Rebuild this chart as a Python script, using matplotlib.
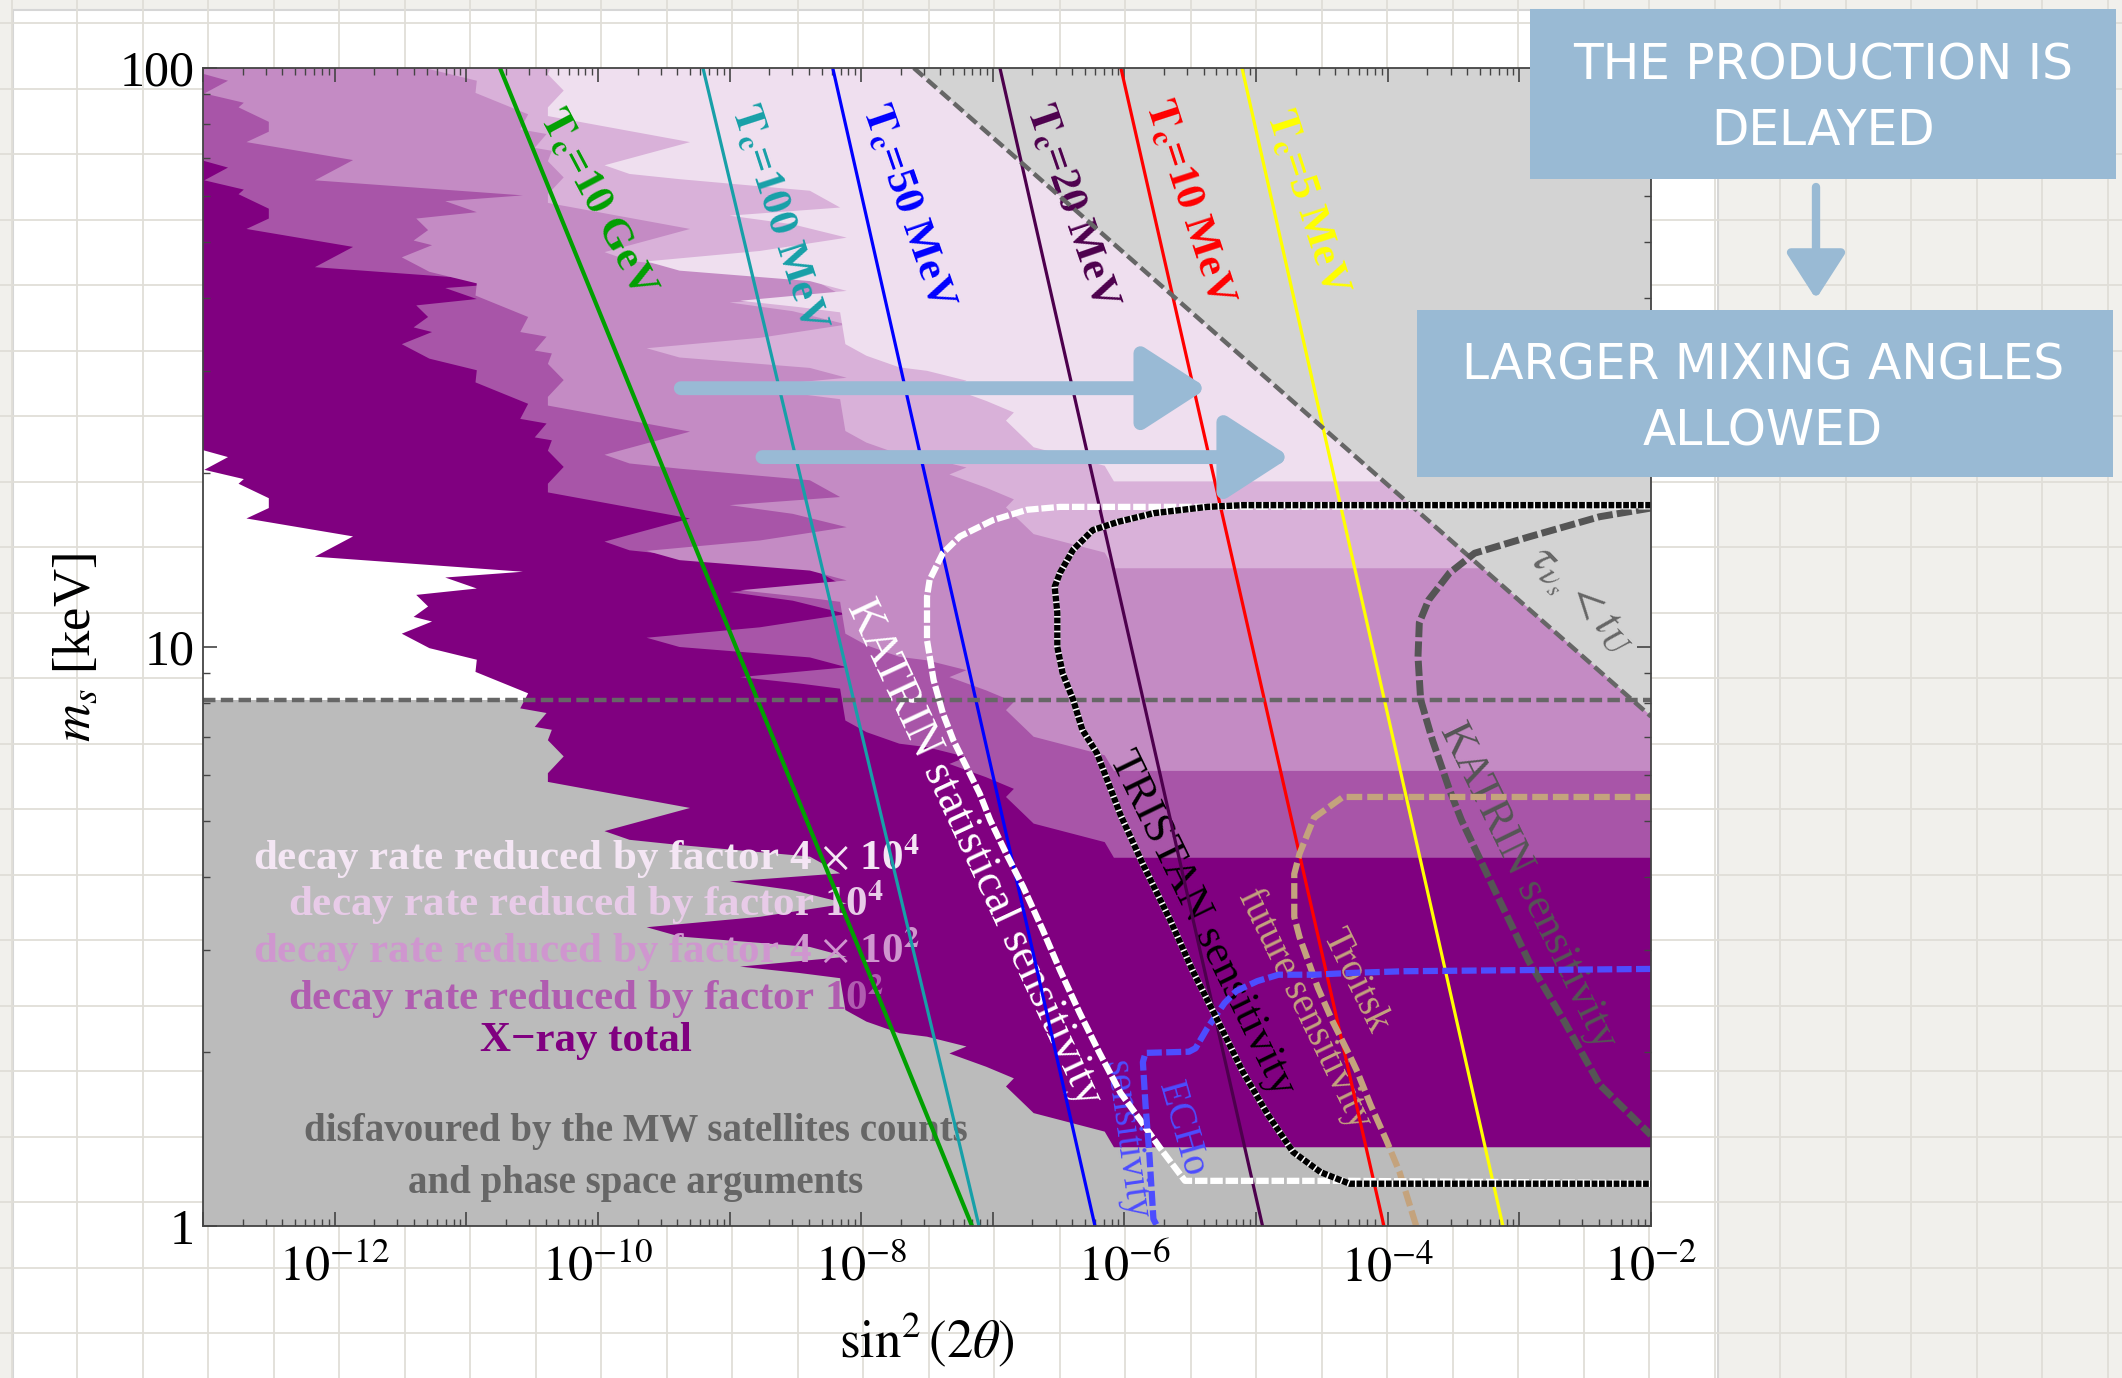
import numpy as np
import matplotlib.pyplot as plt
from matplotlib.patches import Rectangle
from matplotlib.ticker import FixedLocator, FuncFormatter, LogLocator, NullFormatter

plt.rcParams['font.family'] = 'serif'
plt.rcParams['font.serif'] = ['Liberation Serif', 'DejaVu Serif']
plt.rcParams['mathtext.fontset'] = 'stix'

W, H, DPI = 2122, 1378, 100

# X-ray total exclusion edge: log10 sin^2(2theta) vs log10 m_s/keV
xray_log_sin2 = [-13.00, -12.81, -12.99, -12.69, -12.73, -12.50, -12.50, -12.67, -11.86, -12.15,
                 -10.57, -11.16, -10.92, -11.38, -11.29, -11.40, -11.26, -11.49, -11.28, -10.92,
                 -10.93, -10.53, -10.59, -10.39, -10.48, -10.35, -10.38, -10.26, -10.38, -10.38,
                 -9.30, -9.95, -9.76, -9.38, -8.39, -8.16, -9.00, -8.52, -8.11, -8.77,
                 -9.63, -9.38, -8.39, -8.11, -8.92, -8.47, -8.16, -8.12, -7.96, -7.71,
                 -7.50, -7.20, -7.33, -7.05, -6.84, -6.90, -6.74, -6.69, -6.15, -6.08]
xray_log_ms = [1.340, 1.328, 1.306, 1.290, 1.282, 1.257, 1.240, 1.222, 1.191, 1.156,
               1.130, 1.120, 1.101, 1.090, 1.070, 1.052, 1.044, 1.023, 0.998, 0.978,
               0.957, 0.920, 0.894, 0.886, 0.862, 0.857, 0.839, 0.811, 0.782, 0.767,
               0.722, 0.682, 0.667, 0.658, 0.638, 0.609, 0.595, 0.580, 0.557, 0.534,
               0.516, 0.500, 0.482, 0.465, 0.448, 0.437, 0.428, 0.373, 0.353, 0.333,
               0.327, 0.310, 0.298, 0.275, 0.255, 0.241, 0.206, 0.195, 0.163, 0.136]

# reduced decay rate moves the whole X-ray edge up in mass (dex)
band_names = ['X\u2212ray total',
              'decay rate reduced by factor 10$^{\\mathbf{2}}$',
              'decay rate reduced by factor 4 $\\times$ 10$^{\\mathbf{2}}$',
              'decay rate reduced by factor 10$^{\\mathbf{4}}$',
              'decay rate reduced by factor 4 $\\times$ 10$^{\\mathbf{4}}$']
band_shift_dex = [0.0, 0.50, 0.65, 1.00, 1.15]
band_colors = ['#800080', '#a855a8', '#c48bc4', '#d9b1d9', '#efdfef']
band_text_colors = ['#800080', '#b05cb0', '#cf96cf', '#e8cbe8', '#f4e6f4']

ms_phase_space = 8.1          # keV, MW satellites / phase space bound
tau_log_sin2_top = -7.6       # tau < t_U line at m_s = 100 keV
tau_log_ms_edge = 0.88        # same line at sin^2 = 1e-2

# T_c lines: log10 sin^2 at m_s = 100 keV and at m_s = 1 keV
tc_names = ['10 GeV', '100 MeV', '50 MeV', '20 MeV', '10 MeV', '5 MeV']
tc_log_top = [-10.744, -9.202, -8.216, -6.946, -6.027, -5.107]
tc_log_bottom = [-7.158, -7.105, -6.224, -4.951, -4.029, -3.125]
tc_colors = ['#00a000', '#17a0a8', '#0000ff', '#4d004d', '#ff0000', '#ffff00']
tc_widths = [3.0, 2.3, 2.3, 2.3, 2.3, 2.3]

katrin_stat_x = [-2.0, -5.88, -6.49, -6.74, -7.00, -7.25, -7.38, -7.48, -7.50, -7.50, -7.45, -7.38,
                 -7.30, -7.20, -7.10, -7.02, -6.90, -6.77, -6.62, -6.49, -6.34, -6.19, -6.03, -5.88,
                 -5.73, -5.54, -4.29, -2.0]
katrin_stat_y = [1.243, 1.242, 1.242, 1.237, 1.219, 1.191, 1.162, 1.116, 1.087, 1.012, 0.943, 0.886,
                 0.839, 0.793, 0.747, 0.701, 0.644, 0.586, 0.511, 0.442, 0.368, 0.299, 0.230, 0.183,
                 0.135, 0.078, 0.078, 0.074]

tristan_x = [-2.0, -5.10, -5.37, -5.78, -6.05, -6.24, -6.39, -6.49, -6.53, -6.51, -6.51, -6.47,
             -6.39, -6.32, -6.21, -6.11, -6.03, -5.86, -5.65, -5.48, -5.29, -5.10, -4.91, -4.72,
             -4.51, -4.29, -2.0]
tristan_y = [1.245, 1.245, 1.242, 1.231, 1.216, 1.202, 1.168, 1.128, 1.104, 1.059, 1.000, 0.955,
             0.909, 0.857, 0.817, 0.758, 0.710, 0.625, 0.527, 0.440, 0.354, 0.266, 0.192, 0.128,
             0.093, 0.073, 0.073]

katrin_x = [-2.0, -2.39, -2.93, -3.34, -3.53, -3.69, -3.76, -3.77, -3.75, -3.66, -3.53, -3.44,
            -3.20, -2.93, -2.66, -2.39, -2.0]
katrin_y = [1.240, 1.225, 1.190, 1.162, 1.128, 1.081, 1.042, 0.983, 0.909, 0.839, 0.753, 0.701,
            0.586, 0.458, 0.354, 0.244, 0.157]

troitsk_x = [-2.0, -4.34, -4.56, -4.67, -4.71, -4.71, -4.67, -4.53, -4.42, -4.29, -4.23, -4.13,
             -4.01, -3.91, -3.77]
troitsk_y = [0.741, 0.741, 0.705, 0.643, 0.608, 0.534, 0.499, 0.411, 0.354, 0.295, 0.266, 0.209,
             0.148, 0.093, -0.01]

echo_x = [-2.0, -3.88, -4.29, -4.56, -4.83, -4.99, -5.15, -5.24, -5.37, -5.46, -5.51, -5.84,
          -5.86, -5.84, -5.81, -5.78, -5.73]
echo_y = [0.444, 0.440, 0.437, 0.434, 0.434, 0.423, 0.406, 0.385, 0.342, 0.307, 0.301, 0.299,
          0.283, 0.209, 0.121, 0.012, -0.01]


def p(v):
    return 10.0 ** np.asarray(v, dtype=float)


fig = plt.figure(figsize=(W / DPI, H / DPI), dpi=DPI)
fig.patch.set_facecolor('#f1f0ec')

# squared paper behind the white sheet
bg = fig.add_axes([0, 0, 1, 1], zorder=0)
bg.set_xlim(0, W)
bg.set_ylim(H, 0)
bg.axis('off')
for gx in np.arange(77 - 65.5, W, 65.5):
    bg.axvline(gx, color='#e0ded8', lw=1.3)
for gy in np.arange(23, H, 65.5):
    bg.axhline(gy, color='#e0ded8', lw=1.3)
bg.add_patch(Rectangle((13, 10), 1705, H, facecolor='white', edgecolor='#d6d6d6', lw=1.5))

ax = fig.add_axes([203 / W, 1 - 1226 / H, 1448 / W, 1158 / H], zorder=1)
ax.set_xscale('log')
ax.set_yscale('log')
ax.set_xlim(1e-13, 1e-2)
ax.set_ylim(1, 100)

# excluded by satellite counts / phase space
ax.axhspan(1, ms_phase_space, color='#bbbbbb', lw=0, zorder=0.5)

# X-ray band and its shifted copies
edge_x = np.concatenate([[-14.0, -14.0], xray_log_sin2, [-1.0, -1.0]])
edge_y = np.concatenate([[3.0, xray_log_ms[0] + 0.02], xray_log_ms, [xray_log_ms[-1], 3.0]])
for i, (shift, col) in enumerate(zip(band_shift_dex, band_colors)):
    ax.fill(p(edge_x), p(edge_y + shift), color=col, lw=0, zorder=1 + 0.01 * i)

# tau < t_U region
ax.fill(p([tau_log_sin2_top, -2, -2]), p([2, 2, tau_log_ms_edge]), color='#d3d3d3', lw=0, zorder=1.5)

# T_c lines
for top, bot, col, lw in zip(tc_log_top, tc_log_bottom, tc_colors, tc_widths):
    ax.plot(p([top, bot]), [100, 1], color=col, lw=lw, zorder=3, solid_capstyle='butt')

ax.plot(p([tau_log_sin2_top, -2]), p([2, tau_log_ms_edge]), color='#666666', lw=3.2,
        ls=(0, (2.8, 1.2)), zorder=3.5)
ax.axhline(ms_phase_space, color='#666666', lw=3.2, ls=(0, (2.8, 1.2)), zorder=3.5)

# experimental sensitivities
ax.plot(p(katrin_x), p(katrin_y), color='#555555', lw=5.0, ls=(0, (2.2, 0.6)), zorder=4)
ax.plot(p(troitsk_x), p(troitsk_y), color='#c4a37d', lw=4.5, ls=(0, (2.5, 0.8)), zorder=4)
ax.plot(p(katrin_stat_x), p(katrin_stat_y), color='white', lw=4.5, ls=(0, (2.0, 0.45)), zorder=4.1)
ax.plot(p(echo_x), p(echo_y), color='#4d4dff', lw=4.5, ls=(0, (2.4, 0.7)), zorder=4.2)
ax.plot(p(tristan_x), p(tristan_y), color='white', lw=4.6, zorder=4.3)
ax.plot(p(tristan_x), p(tristan_y), color='black', lw=4.6, ls=(0, (0.9, 0.25)), zorder=4.4)

# labels on the T_c lines
tc_label_pos = [(-10.01, 1.766, -62), (-8.64, 1.740, -72), (-7.65, 1.760, -71),
                (-6.41, 1.760, -71), (-5.52, 1.767, -72), (-4.62, 1.767, -72)]
for name, col, (lx, ly, rot) in zip(tc_names, tc_colors, tc_label_pos):
    ax.text(10 ** lx, 10 ** ly, r'$\mathbf{T_c}$=' + name, color=col, fontsize=31, fontweight='bold',
            rotation=rot, ha='center', va='center', zorder=2.6)

ax.text(10 ** -7.14, 10 ** 0.645, 'KATRIN statistical sensitivity', color='white', fontsize=33,
        rotation=-65, ha='center', va='center', zorder=2.6)
ax.text(10 ** -5.41, 10 ** 0.523, 'TRISTAN sensitivity', color='black', fontsize=32,
        rotation=-64, ha='center', va='center', zorder=2.6)
ax.text(10 ** -2.93, 10 ** 0.587, 'KATRIN sensitivity', color='#555555', fontsize=32,
        rotation=-64, ha='center', va='center', zorder=2.6)
ax.text(10 ** -4.25, 10 ** 0.423, 'Troitsk', color='#c4a37d', fontsize=28,
        rotation=-64, ha='center', va='center', zorder=2.6)
ax.text(10 ** -4.63, 10 ** 0.376, 'future sensitivity', color='#c4a37d', fontsize=28,
        rotation=-64, ha='center', va='center', zorder=2.6)
ax.text(10 ** -5.57, 10 ** 0.168, 'ECHo', color='#4d4dff', fontsize=28,
        rotation=-74, ha='center', va='center', zorder=2.6)
ax.text(10 ** -5.99, 10 ** 0.149, 'sensitivity', color='#4d4dff', fontsize=28,
        rotation=-82, ha='center', va='center', zorder=2.6)
ax.text(10 ** -2.53, 10 ** 1.078, r'$\tau_{\nu_s} < t_U$', color='#666666', fontsize=34,
        rotation=-46, ha='center', va='center', zorder=2.6)

# band legend written inside the plot
legend_log_ms = [0.3195, 0.397, 0.478, 0.558, 0.637]
for name, col, ly in zip(band_names, band_text_colors, legend_log_ms):
    ax.text(10 ** -10.09, 10 ** ly, name, color=col, fontsize=31, fontweight='bold',
            ha='center', va='center', zorder=2.6)
ax.text(10 ** -9.71, 10 ** 0.164, 'disfavoured by the MW satellites counts', color='#666666',
        fontsize=28, fontweight='bold', ha='center', va='center', zorder=2.6)
ax.text(10 ** -9.71, 10 ** 0.074, 'and phase space arguments', color='#666666',
        fontsize=28, fontweight='bold', ha='center', va='center', zorder=2.6)

# blue arrows across the plot
arrow_blue = '#99bad5'
for x0, x1, ly in [(-9.37, -5.37, 1.447), (-8.75, -4.74, 1.328)]:
    ax.annotate('', xy=(10 ** x1, 10 ** ly), xytext=(10 ** x0, 10 ** ly),
                arrowprops=dict(arrowstyle='-|>,head_length=0.65,head_width=0.42', lw=10,
                                color=arrow_blue, mutation_scale=60, shrinkA=0, shrinkB=0),
                zorder=6)

ax.xaxis.set_major_locator(FixedLocator(p(np.arange(-13, -1))))
ax.xaxis.set_major_formatter(FuncFormatter(
    lambda v, pos: r'$10^{%d}$' % round(np.log10(v)) if round(np.log10(v)) % 2 == 0 else ''))
ax.xaxis.set_minor_locator(LogLocator(base=10, subs=np.arange(2, 10), numticks=100))
ax.xaxis.set_minor_formatter(NullFormatter())
ax.yaxis.set_major_locator(FixedLocator([1, 10, 100]))
ax.yaxis.set_major_formatter(FuncFormatter(lambda v, pos: '%d' % v))
ax.yaxis.set_minor_locator(LogLocator(base=10, subs=np.arange(2, 10), numticks=100))
ax.yaxis.set_minor_formatter(NullFormatter())
ax.tick_params(which='both', direction='in', top=True, right=True, color='#444444')
ax.tick_params(which='major', length=10, width=1.2, labelsize=36)
ax.tick_params(axis='x', which='major', pad=14)
ax.tick_params(axis='y', which='major', pad=6)
ax.tick_params(which='minor', length=5, width=1.0)
for sp in ax.spines.values():
    sp.set_color('#444444')
    sp.set_linewidth(1.3)
    sp.set_zorder(7)

ax.text(0.5, -0.098, r'$\sin^2(2\theta)$', transform=ax.transAxes, fontsize=38,
        ha='center', va='center')
ax.text(-0.087, 0.5, r'$m_s$ [keV]', transform=ax.transAxes, fontsize=38,
        rotation=90, ha='center', va='center')

# notes on the right
top = fig.add_axes([0, 0, 1, 1], zorder=5)
top.set_xlim(0, W)
top.set_ylim(H, 0)
top.axis('off')
box_blue = '#99bad4'
top.add_patch(Rectangle((1530, 9), 586, 170, facecolor=box_blue, lw=0))
top.add_patch(Rectangle((1417, 310), 696, 167, facecolor=box_blue, lw=0))
note_font = dict(color='white', fontsize=35, ha='center', va='center',
                 family=['DejaVu Sans'])
top.text(1823, 65, 'THE PRODUCTION IS', **note_font)
top.text(1823, 131, 'DELAYED', **note_font)
top.text(1763, 366, 'LARGER MIXING ANGLES', **note_font)
top.text(1763, 432, 'ALLOWED', **note_font)
top.annotate('', xy=(1816, 299), xytext=(1816, 187),
             arrowprops=dict(arrowstyle='-|>,head_length=0.7,head_width=0.45', lw=6,
                             color=box_blue, mutation_scale=40, shrinkA=0, shrinkB=0))

fig.savefig('out.png', dpi=DPI)
